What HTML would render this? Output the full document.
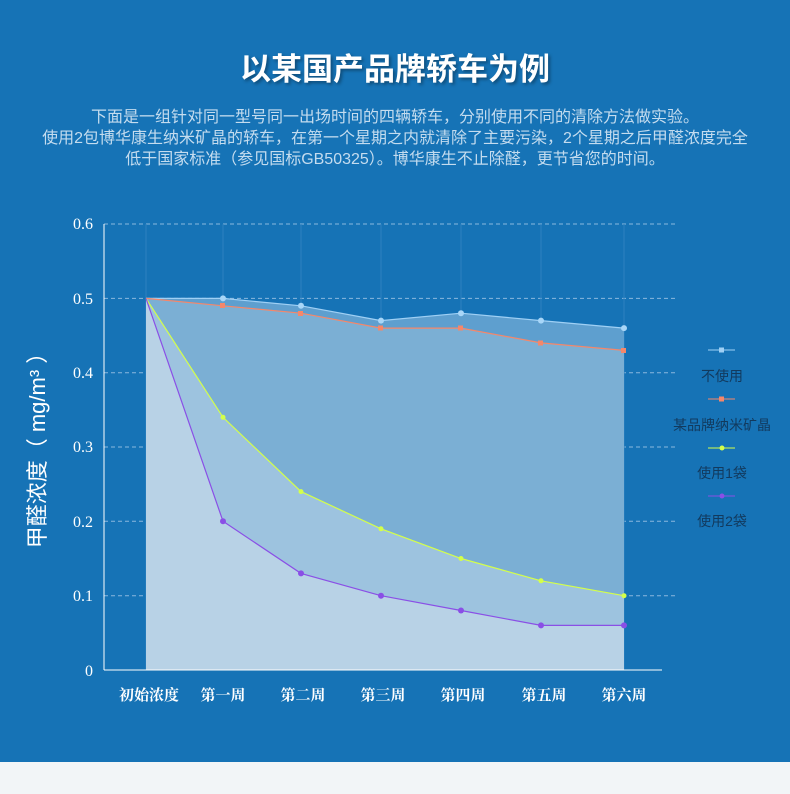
<!DOCTYPE html>
<html><head><meta charset="utf-8"><style>
body{margin:0;width:790px;height:794px;overflow:hidden;background:#f2f5f7;font-family:"Liberation Sans","Noto Sans CJK SC",sans-serif}
#b{position:absolute;left:0;top:0;width:790px;height:762px;background:#1673b6}
.t{position:absolute;left:0;width:790px;text-align:center;color:#fff}
</style></head><body>
<div id="b"></div>
<div class="t" style="top:44px;font-size:31px;font-weight:bold;text-shadow:2px 2px 3px rgba(0,0,0,.35)">以某国产品牌轿车为例</div>
<div class="t" style="top:107px;font-size:16px;line-height:21px;color:#c4dcef">下面是一组针对同一型号同一出场时间的四辆轿车，分别使用不同的清除方法做实验。<br>使用2包博华康生纳米矿晶的轿车，在第一个星期之内就清除了主要污染，2个星期之后甲醛浓度完全<br>低于国家标准（参见国标GB50325）。博华康生不止除醛，更节省您的时间。</div>
<svg width="790" height="794" style="position:absolute;left:0;top:0" font-family="Liberation Serif,Noto Serif CJK SC,serif">
<g stroke="#8ab8de" stroke-dasharray="4,3" stroke-width="1">
<line x1="104" y1="224" x2="678" y2="224"/><line x1="104" y1="298.4" x2="678" y2="298.4"/><line x1="104" y1="372.7" x2="678" y2="372.7"/><line x1="104" y1="447" x2="678" y2="447"/><line x1="104" y1="521.3" x2="678" y2="521.3"/><line x1="104" y1="595.7" x2="678" y2="595.7"/>
</g>
<g stroke="#2f82c0" stroke-width="1">
<line x1="146" y1="224" x2="146" y2="670"/><line x1="223" y1="224" x2="223" y2="670"/><line x1="301" y1="224" x2="301" y2="670"/><line x1="381" y1="224" x2="381" y2="670"/><line x1="461" y1="224" x2="461" y2="670"/><line x1="541" y1="224" x2="541" y2="670"/><line x1="624" y1="224" x2="624" y2="670"/>
</g>
<polygon fill="#5e9fcf" points="146,298.4 223,298.4 301,305.8 381,320.6 461,313.2 541,320.6 624,328.1 624,670 146,670"/>
<polygon fill="#7bafd4" points="146,298.4 223,305.8 301,313.2 381,328.1 461,328.1 541,342.9 624,350.4 624,670 146,670"/>
<polygon fill="#9dc3df" points="146,298.4 223,417.3 301,491.6 381,528.8 461,558.5 541,580.8 624,595.7 624,670 146,670"/>
<polygon fill="#b8d2e6" points="146,298.4 223,521.3 301,573.4 381,595.7 461,610.5 541,625.4 624,625.4 624,670 146,670"/>
<polyline fill="none" stroke="#9fd0f5" stroke-width="1.2" points="146,298.4 223,298.4 301,305.8 381,320.6 461,313.2 541,320.6 624,328.1"/>
<polyline fill="none" stroke="#f5876a" stroke-width="1.2" points="146,298.4 223,305.8 301,313.2 381,328.1 461,328.1 541,342.9 624,350.4"/>
<polyline fill="none" stroke="#d4ff4a" stroke-width="1.2" points="146,298.4 223,417.3 301,491.6 381,528.8 461,558.5 541,580.8 624,595.7"/>
<polyline fill="none" stroke="#8a4fe6" stroke-width="1.2" points="146,298.4 223,521.3 301,573.4 381,595.7 461,610.5 541,625.4 624,625.4"/>
<g fill="#a8d6f8"><circle cx="223" cy="298.4" r="3"/><circle cx="301" cy="305.8" r="3"/><circle cx="381" cy="320.6" r="3"/><circle cx="461" cy="313.2" r="3"/><circle cx="541" cy="320.6" r="3"/><circle cx="624" cy="328.1" r="3"/></g>
<g fill="#f5876a"><rect x="220" y="303" width="5" height="5"/><rect x="298" y="311" width="5" height="5"/><rect x="378" y="325.5" width="5" height="5"/><rect x="458" y="325.5" width="5" height="5"/><rect x="538" y="340.5" width="5" height="5"/><rect x="621" y="348" width="5" height="5"/></g>
<g fill="#d4ff4a"><circle cx="223" cy="417.3" r="2.5"/><circle cx="301" cy="491.6" r="2.5"/><circle cx="381" cy="528.8" r="2.5"/><circle cx="461" cy="558.5" r="2.5"/><circle cx="541" cy="580.8" r="2.5"/><circle cx="624" cy="595.7" r="2.5"/></g>
<g fill="#8a4fe6"><circle cx="223" cy="521.3" r="3"/><circle cx="301" cy="573.4" r="3"/><circle cx="381" cy="595.7" r="3"/><circle cx="461" cy="610.5" r="3"/><circle cx="541" cy="625.4" r="3"/><circle cx="624" cy="625.4" r="3"/></g>
<line x1="104" y1="224" x2="104" y2="670" stroke="#fff"/><line x1="104" y1="670" x2="662" y2="670" stroke="#fff"/>
<g fill="#fff" font-size="16" text-anchor="end">
<text x="93" y="229">0.6</text><text x="93" y="304">0.5</text><text x="93" y="378">0.4</text><text x="93" y="452">0.3</text><text x="93" y="527">0.2</text><text x="93" y="601">0.1</text><text x="93" y="676">0</text>
</g>
<g fill="#fff" font-size="15" font-weight="bold" text-anchor="middle">
<text x="149" y="700">初始浓度</text><text x="223" y="700">第一周</text><text x="303" y="700">第二周</text><text x="383" y="700">第三周</text><text x="463" y="700">第四周</text><text x="544" y="700">第五周</text><text x="624" y="700">第六周</text>
</g>
<text transform="translate(45,445) rotate(-90)" fill="#fff" font-size="22" text-anchor="middle" font-family="Liberation Sans,Noto Sans CJK SC,sans-serif">甲醛浓度（ mg/m³ ）</text>
<g font-family="Liberation Sans,Noto Sans CJK SC,sans-serif" font-size="14" fill="#123a5e" text-anchor="middle">
<line x1="708" y1="350" x2="735" y2="350" stroke="#9fd0f5"/><rect x="719" y="347.5" width="5" height="5" fill="#9fd0f5"/><text x="722" y="381">不使用</text>
<line x1="708" y1="399" x2="735" y2="399" stroke="#f5876a"/><rect x="719" y="396.5" width="5" height="5" fill="#f5876a"/><text x="722" y="430">某品牌纳米矿晶</text>
<line x1="708" y1="448" x2="735" y2="448" stroke="#d4ff4a"/><circle cx="722" cy="448" r="2.5" fill="#d4ff4a"/><text x="722" y="478">使用1袋</text>
<line x1="708" y1="496" x2="735" y2="496" stroke="#8a4fe6"/><circle cx="722" cy="496" r="2.5" fill="#8a4fe6"/><text x="722" y="526">使用2袋</text>
</g>
</svg>
</body></html>
